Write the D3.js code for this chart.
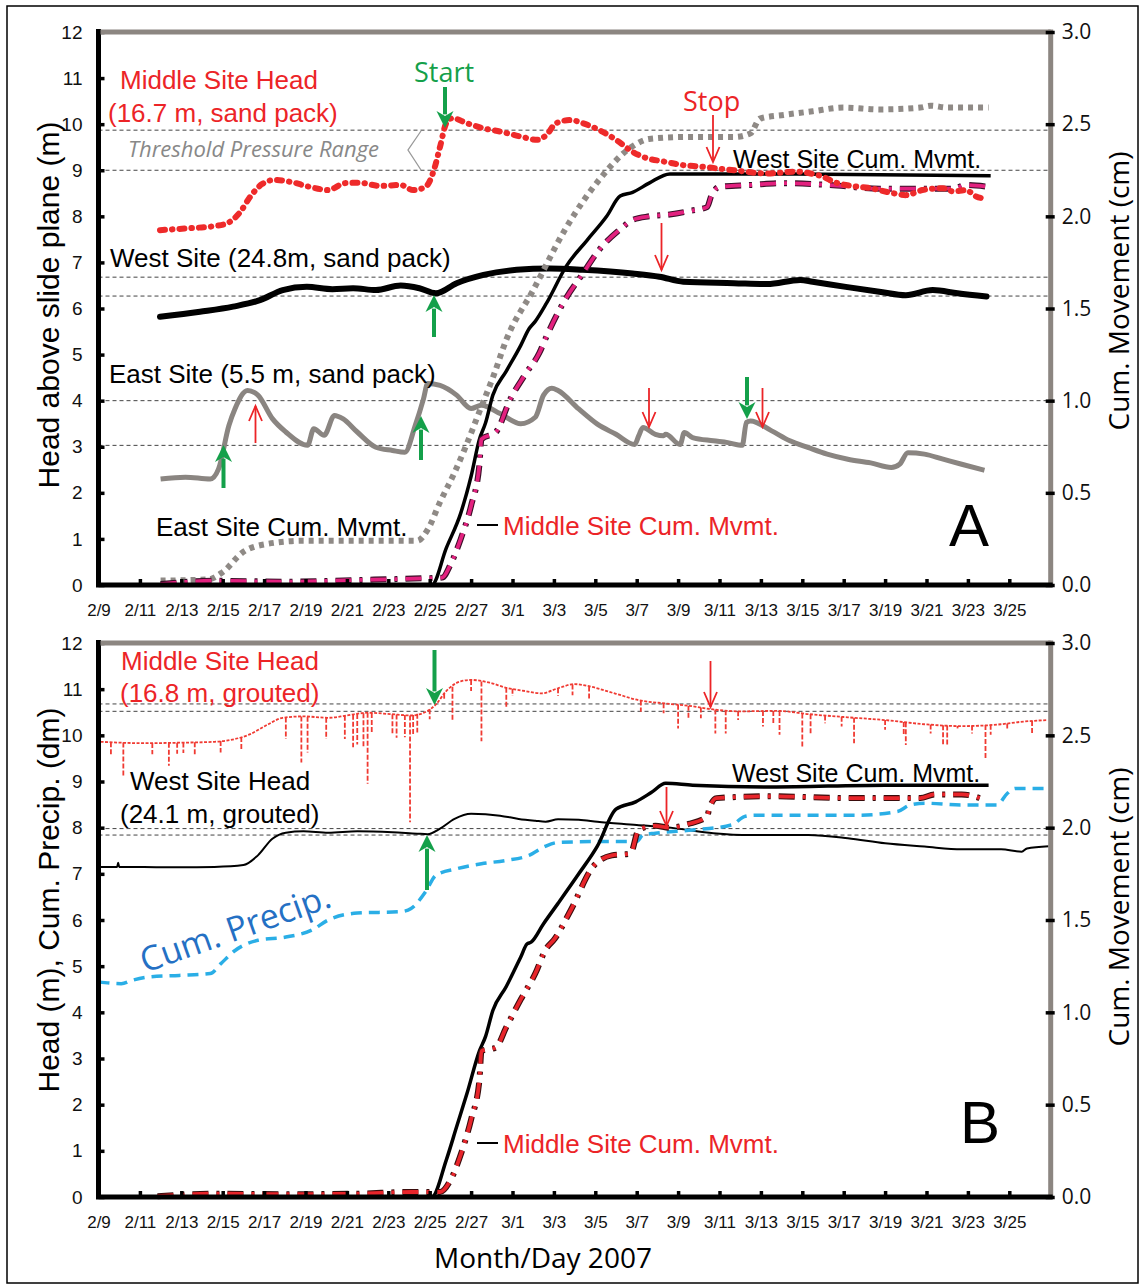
<!DOCTYPE html>
<html><head><meta charset="utf-8">
<script src="https://cdn.jsdelivr.net/npm/d3@7"></script>
<style>body{margin:0;background:#fff}svg{display:block}</style>
</head><body><svg id="c" width="1144" height="1286"></svg>
<script>
// ---------- DATA (x = days since 2/9/2007) ----------
const tickDays = [0,2,4,6,8,10,12,14,16,18,20,22,24,26,28,30,32,34,36,38,40,42,44];
const tickLabels = ["2/9","2/11","2/13","2/15","2/17","2/19","2/21","2/23","2/25","2/27","3/1","3/3","3/5","3/7","3/9","3/11","3/13","3/15","3/17","3/19","3/21","3/23","3/25"];
const headTicks = [0,1,2,3,4,5,6,7,8,9,10,11,12];
const mvmtTicks = [0,0.5,1,1.5,2,2.5,3];

// Panel A
const middleHeadA = [[2.97,7.70],[4.3,7.74],[5.63,7.79],[6.26,7.86],[6.84,8.09],[7.32,8.42],[7.9,8.70],[8.5,8.79],[9.25,8.75],[10.2,8.64],[11.1,8.57],[11.9,8.72],[12.6,8.73],[13.6,8.66],[14.6,8.68],[15.2,8.57],[15.8,8.64],[16.2,9.0],[16.5,9.51],[16.8,10.02],[17.1,10.13],[17.8,10.02],[18.6,9.91],[19.4,9.84],[20.4,9.73],[21.2,9.66],[21.65,9.77],[22.1,10.02],[22.8,10.09],[23.4,10.02],[24.2,9.87],[25.0,9.66],[25.8,9.40],[26.5,9.26],[27.3,9.19],[28.25,9.11],[29.1,9.08],[29.9,9.04],[30.7,9.0],[32.3,8.93],[33.7,8.97],[34.4,8.93],[35.0,8.86],[35.5,8.75],[36.1,8.68],[37.3,8.61],[38.4,8.50],[39.0,8.46],[39.8,8.57],[40.8,8.61],[41.3,8.54],[41.9,8.57],[42.4,8.43],[42.9,8.38]];
const westHeadA = [[2.97,5.82],[4.9,5.93],[6.5,6.04],[7.8,6.18],[8.9,6.40],[10.06,6.47],[11.3,6.42],[12.3,6.44],[13.4,6.40],[14.6,6.50],[15.5,6.44],[16.3,6.33],[17.3,6.55],[18.6,6.73],[20.2,6.84],[21.8,6.87],[23.4,6.84],[25.8,6.76],[27.1,6.69],[28.25,6.58],[30.7,6.55],[32.3,6.53],[33.9,6.62],[34.5,6.58],[36.1,6.47],[37.8,6.36],[39.0,6.29],[40.3,6.40],[41.5,6.33],[42.9,6.26]];
const eastHeadA = [[3.0,2.30],[4.2,2.34],[5.4,2.30],[5.8,2.52],[6.3,3.46],[6.6,3.83],[7.2,4.22],[7.7,4.12],[8.4,3.61],[9.05,3.32],[10.1,3.03],[10.4,3.39],[10.9,3.25],[11.4,3.68],[11.8,3.61],[12.5,3.32],[13.4,2.99],[14.2,2.92],[14.8,2.88],[15.3,3.46],[15.7,4.04],[15.9,4.37],[16.5,4.33],[17.3,4.12],[18.0,3.83],[18.5,3.90],[19.4,3.72],[20.4,3.50],[21.1,3.64],[21.5,4.12],[21.9,4.27],[22.2,4.22],[23.2,3.82],[24.1,3.49],[25.0,3.27],[25.9,3.05],[26.1,3.24],[26.3,3.42],[26.9,3.27],[27.3,3.24],[27.4,3.27],[28.1,3.05],[28.3,3.31],[28.7,3.20],[29.7,3.13],[30.4,3.09],[31.1,3.03],[31.3,3.53],[31.5,3.56],[32.5,3.35],[33.4,3.13],[34.3,2.98],[35.2,2.84],[36.2,2.73],[37.3,2.65],[38.3,2.55],[38.7,2.62],[39.1,2.87],[39.9,2.84],[40.8,2.73],[41.7,2.62],[42.8,2.49]];
const eastMvmtA = [[3.0,0.024],[5.3,0.03],[6.0,0.07],[7.0,0.18],[8.0,0.22],[9.9,0.24],[12.5,0.24],[15.4,0.24],[15.9,0.30],[16.5,0.45],[17.2,0.61],[17.7,0.74],[18.4,0.94],[19.1,1.14],[19.7,1.33],[21.0,1.60],[22.6,1.94],[24.2,2.20],[25.8,2.38],[26.6,2.42],[28.25,2.43],[30.7,2.43],[31.5,2.45],[31.95,2.53],[33.1,2.55],[34.5,2.57],[36.0,2.59],[37.75,2.58],[39.7,2.59],[40.2,2.60],[41.0,2.59],[43.0,2.59]];
const westMvmtA = [[3.0,0],[16.1,0],[16.8,0.20],[17.5,0.39],[18.0,0.59],[18.4,0.79],[18.7,0.88],[19.05,1.03],[19.7,1.16],[20.4,1.30],[20.8,1.39],[21.1,1.43],[21.65,1.53],[22.6,1.73],[23.6,1.87],[24.55,2.00],[25.2,2.11],[25.8,2.13],[26.6,2.18],[27.6,2.23],[29.1,2.23],[33.7,2.23],[43.1,2.22]];
const middleMvmtA = [[3.0,0.005],[5.6,0.023],[9.05,0.018],[12.5,0.027],[15.6,0.036],[16.6,0.04],[17.0,0.11],[17.5,0.25],[18.0,0.43],[18.4,0.65],[18.5,0.79],[19.2,0.83],[19.9,1.01],[20.6,1.14],[21.3,1.26],[21.65,1.35],[22.45,1.53],[23.4,1.69],[24.2,1.82],[25.2,1.93],[25.8,1.98],[26.6,2.0],[27.6,2.01],[28.6,2.03],[29.4,2.05],[29.6,2.11],[30.0,2.16],[31.5,2.17],[33.1,2.18],[35.3,2.17],[37.75,2.15],[39.8,2.15],[41.3,2.15],[41.9,2.17],[43.0,2.16]];
const refLinesA = [9.87,9.0,6.68,6.27,4.0,3.03];

// Panel B
const middleHeadB = [[0.1,9.86],[2.2,9.83],[3.9,9.84],[5.6,9.86],[6.6,9.92],[7.3,10.02],[8.2,10.24],[8.9,10.38],[9.9,10.41],[11.1,10.38],[12.0,10.43],[13.0,10.49],[14.1,10.46],[15.1,10.43],[15.9,10.53],[16.3,10.67],[16.8,10.96],[17.5,11.17],[18.0,11.20],[18.9,11.14],[19.7,11.03],[20.6,10.96],[21.4,10.91],[22.2,11.02],[23.0,11.11],[23.5,11.08],[25.0,10.90],[26.1,10.76],[27.4,10.69],[28.7,10.63],[29.7,10.56],[31.0,10.52],[32.8,10.53],[34.3,10.46],[36.2,10.39],[38.0,10.33],[39.9,10.24],[41.7,10.20],[43.6,10.24],[44.5,10.29],[45.8,10.33]];
const spikeBottomsB = [[0.6,9.59],[1.2,9.13],[2.6,9.59],[3.4,9.34],[3.8,9.6],[4.1,9.62],[4.65,9.59],[5.9,9.63],[6.9,9.67],[9.05,9.92],[9.8,9.41],[10.1,9.63],[11.0,9.92],[11.9,9.92],[12.3,9.74],[12.5,9.8],[12.8,9.74],[13.0,8.95],[13.2,10.03],[14.2,10.0],[14.4,9.95],[14.8,9.96],[15.05,8.12],[15.2,10.0],[15.4,10.06],[16.0,10.35],[16.7,10.78],[17.1,10.33],[18.0,10.96],[18.5,9.87],[19.7,10.6],[20.0,10.85],[22.2,10.85],[22.9,10.87],[23.7,10.8],[26.2,10.51],[27.3,10.48],[28.0,10.15],[28.5,10.37],[29.1,10.37],[29.8,10.04],[30.3,10.04],[30.9,10.33],[32.1,10.19],[32.6,10.26],[32.9,10.01],[34.0,9.75],[34.4,10.01],[35.1,10.26],[35.9,10.19],[36.5,9.83],[38.0,10.12],[38.9,10.01],[39.0,9.79],[40.2,10.04],[40.8,9.79],[41.0,9.79],[41.5,10.15],[42.2,10.04],[42.85,9.50],[43.1,10.01],[43.9,10.12],[45.1,10.04]];
const westHeadB = [[0,7.15],[0.9,7.15],[0.95,7.24],[1.0,7.15],[2.2,7.15],[3.9,7.14],[5.6,7.15],[7.0,7.19],[7.7,7.40],[8.4,7.76],[9.05,7.89],[9.9,7.92],[11.1,7.89],[12.5,7.92],[14.2,7.90],[15.4,7.87],[15.9,7.86],[16.5,7.98],[17.2,8.19],[18.0,8.30],[19.4,8.26],[20.3,8.19],[21.1,8.15],[21.6,8.13],[22.2,8.18],[23.2,8.17],[24.1,8.13],[26.0,8.06],[27.8,7.99],[29.7,7.88],[31.5,7.84],[34.3,7.84],[36.2,7.77],[38.0,7.66],[39.9,7.59],[41.7,7.53],[43.6,7.53],[44.6,7.48],[44.85,7.55],[45.9,7.60]];
const cumPrecipB = [[0,4.66],[1.1,4.62],[1.6,4.69],[2.5,4.77],[3.9,4.80],[5.4,4.84],[5.9,5.05],[6.6,5.34],[7.7,5.56],[9.05,5.63],[10.3,5.78],[11.1,6.0],[12.5,6.15],[14.6,6.18],[15.1,6.25],[15.8,6.61],[16.3,6.97],[17.3,7.11],[18.5,7.22],[19.7,7.29],[20.8,7.40],[21.6,7.60],[22.2,7.68],[24.1,7.70],[26.0,7.70],[26.3,7.84],[26.9,7.88],[28.7,7.95],[30.6,8.06],[31.2,8.24],[31.7,8.27],[36.7,8.27],[38.6,8.35],[39.2,8.49],[39.9,8.53],[41.7,8.49],[43.4,8.49],[43.9,8.74],[44.3,8.85],[45.9,8.85]];
const westMvmtB = [[3.0,0],[16.1,0],[16.8,0.20],[17.3,0.38],[17.8,0.56],[18.4,0.79],[18.7,0.87],[19.05,1.01],[19.7,1.14],[20.4,1.30],[20.7,1.37],[20.9,1.38],[21.5,1.48],[22.2,1.59],[23.2,1.75],[24.1,1.90],[25.0,2.10],[25.95,2.14],[26.7,2.19],[27.4,2.24],[28.7,2.23],[32.5,2.22],[38.0,2.23],[43.0,2.23]];
const middleMvmtB = [[2.85,0.004],[5.6,0.018],[9.05,0.015],[12.5,0.018],[15.1,0.027],[16.5,0.027],[17.0,0.09],[17.5,0.23],[18.0,0.42],[18.4,0.63],[18.5,0.79],[19.2,0.81],[19.7,0.92],[20.4,1.07],[21.1,1.21],[21.6,1.34],[22.05,1.40],[22.8,1.55],[23.9,1.79],[24.8,1.85],[25.7,1.86],[26.1,1.99],[26.9,2.01],[27.6,2.0],[28.5,2.02],[29.4,2.06],[29.5,2.10],[29.85,2.16],[32.5,2.17],[36.2,2.16],[39.7,2.16],[40.4,2.18],[41.7,2.18],[42.85,2.15]];
const refLinesB = [10.68,10.52,7.98,7.84];

// ---------- DRAW ----------
const svg = d3.select("#c");
const ARIAL = "'Liberation Sans', Arial, sans-serif";
const OPEN = "'Open Sans', sans-serif";
const RED = "#ec2427", GREEN = "#14a04a", GRAYAX = "#8c8681";

svg.append("rect").attr("x",7).attr("y",6).attr("width",1131).attr("height",1277)
  .attr("fill","none").attr("stroke","#000").attr("stroke-width",1.5);

const x = d3.scaleLinear().domain([0,46]).range([98.5,1050.7]);

function makePanel(top, bottom) {
  const yH = d3.scaleLinear().domain([0,12]).range([bottom, top]);
  const yM = d3.scaleLinear().domain([0,3]).range([bottom, top]);
  return {yH, yM, top, bottom};
}
const A = makePanel(32, 585);
const B = makePanel(643, 1197);

function refLines(P, vals) {
  svg.append("g").selectAll("line").data(vals).join("line")
    .attr("x1", x.range()[0]).attr("x2", x.range()[1])
    .attr("y1", d => P.yH(d)).attr("y2", d => P.yH(d))
    .attr("stroke","#444").attr("stroke-width",1).attr("stroke-dasharray","4 3");
}

function line(P, data, scale, style) {
  const gen = d3.line().x(d => x(d[0])).y(d => P[scale](d[1])).curve(d3.curveMonotoneX);
  const p = svg.append("path").attr("d", gen(data)).attr("fill","none");
  Object.entries(style).forEach(([k,v]) => p.attr(k,v));
  return p;
}

function axes(P) {
  const gl = svg.append("g").attr("transform",`translate(${x.range()[0]},0)`)
    .call(d3.axisLeft(P.yH).tickValues(headTicks).tickFormat(d3.format("d")).tickSizeInner(-6).tickSizeOuter(0).tickPadding(16));
  gl.select(".domain").attr("stroke","#000").attr("stroke-width",5).attr("d",`M0,${P.bottom+2}V${P.top-3}`);
  gl.selectAll(".tick line").attr("stroke","#000").attr("stroke-width",3.5);
  gl.selectAll(".tick text").attr("font-family",ARIAL).attr("font-size",19).attr("fill","#111");
  svg.append("line").attr("x1",x.range()[0]+2).attr("x2",x.range()[1]).attr("y1",P.top).attr("y2",P.top)
    .attr("stroke",GRAYAX).attr("stroke-width",5);
  const gr = svg.append("g").attr("transform",`translate(${x.range()[1]},0)`)
    .call(d3.axisRight(P.yM).tickValues(mvmtTicks).tickFormat(d3.format(".1f")).tickSizeInner(4).tickSizeOuter(0).tickPadding(7));
  gr.select(".domain").attr("stroke",GRAYAX).attr("stroke-width",5).attr("d",`M0,${P.bottom}V${P.top-2.5}`);
  gr.selectAll(".tick line").attr("x1",-5).attr("stroke","#000").attr("stroke-width",3.5);
  gr.selectAll(".tick text").attr("font-family",OPEN).attr("font-size",21).attr("fill","#111");
  const gb = svg.append("g").attr("transform",`translate(0,${P.bottom})`)
    .call(d3.axisBottom(x).tickValues(tickDays).tickFormat((d,i) => tickLabels[i]).tickSizeInner(-6).tickSizeOuter(0).tickPadding(19));
  gb.select(".domain").attr("stroke","#000").attr("stroke-width",5).attr("d",`M${x.range()[0]-2.5},0H${x.range()[1]+2}`);
  gb.selectAll(".tick line").attr("stroke","#000").attr("stroke-width",3.5).filter(d => d === 0).remove();
  gb.selectAll(".tick text").attr("font-family",ARIAL).attr("font-size",17).attr("fill","#111");
}

function text(t, xx, yy, o = {}) {
  const el = svg.append("text").attr("x",xx).attr("y",yy).text(t)
    .attr("font-family", o.font || ARIAL).attr("font-size", o.size || 26)
    .attr("fill", o.fill || "#000");
  if (o.anchor) el.attr("text-anchor", o.anchor);
  if (o.style) el.attr("font-style", o.style);
  if (o.transform) el.attr("transform", o.transform);
  return el;
}

function greenArrow(xx, yFrom, yTip) {
  const dir = yTip > yFrom ? 1 : -1;
  const hl = 17, hw = 8.5;
  svg.append("line").attr("x1",xx).attr("x2",xx).attr("y1",yFrom).attr("y2",yTip - dir*hl*0.8)
    .attr("stroke",GREEN).attr("stroke-width",4);
  svg.append("path").attr("d",`M${xx},${yTip} L${xx-hw},${yTip-dir*hl} L${xx},${yTip-dir*hl*0.7} L${xx+hw},${yTip-dir*hl} Z`)
    .attr("fill",GREEN);
}
function redArrow(xx, yFrom, yTip) {
  const dir = yTip > yFrom ? 1 : -1;
  svg.append("line").attr("x1",xx).attr("x2",xx).attr("y1",yFrom).attr("y2",yTip)
    .attr("stroke",RED).attr("stroke-width",1.8);
  svg.append("path").attr("d",`M${xx-6.5},${yTip-dir*15} L${xx},${yTip} L${xx+6.5},${yTip-dir*15}`)
    .attr("fill","none").attr("stroke",RED).attr("stroke-width",1.8);
}

// ===== PANEL A =====
refLines(A, refLinesA);
line(A, eastHeadA, "yH", {stroke:"#8a8581","stroke-width":5,"stroke-linejoin":"round"});
line(A, westHeadA, "yH", {stroke:"#000","stroke-width":6,"stroke-linejoin":"round","stroke-linecap":"round"});
line(A, eastMvmtA, "yM", {stroke:"#8f8a86","stroke-width":6,"stroke-dasharray":"5 5"});
line(A, westMvmtA, "yM", {stroke:"#000","stroke-width":3.5});
line(A, middleMvmtA, "yM", {stroke:"#3a1028","stroke-width":6,"stroke-dasharray":"16 8 3 8"});
line(A, middleMvmtA, "yM", {stroke:"#e3217f","stroke-width":3.8,"stroke-dasharray":"16 8 3 8"});
line(A, middleHeadA, "yH", {stroke:"#ee2a2a","stroke-width":6,"stroke-linecap":"round","stroke-dasharray":"5 7 0.5 7"});
axes(A);

text("Middle Site Head", 120, 89, {fill:RED});
text("(16.7 m, sand pack)", 108, 122, {fill:RED});
text("Threshold Pressure Range", 128, 157, {font:OPEN, size:22, fill:"#888", style:"italic"});
svg.append("path").attr("d","M421,131 L408,150 L421,170").attr("fill","none").attr("stroke","#999").attr("stroke-width",1.3);
text("Start", 414, 82, {font:OPEN, size:27, fill:GREEN});
greenArrow(445, 87, 128);
text("Stop", 683, 111, {font:OPEN, size:27, fill:RED});
redArrow(713, 115, 162);
redArrow(661.5, 223, 270);
text("West Site Cum. Mvmt.", 733, 168, {size:25});
text("West Site (24.8m, sand pack)", 110, 267);
greenArrow(434, 337, 295);
text("East Site (5.5 m, sand pack)", 109, 383);
greenArrow(223.5, 488, 445);
redArrow(255.5, 443, 406);
greenArrow(421, 460, 416);
redArrow(649, 388, 427);
greenArrow(747, 377, 419);
redArrow(762.5, 388, 427);
text("East Site Cum. Mvmt.", 156, 536);
svg.append("line").attr("x1",477).attr("x2",498).attr("y1",525).attr("y2",525).attr("stroke","#000").attr("stroke-width",2);
text("Middle Site Cum. Mvmt.", 503, 535, {fill:RED});
text("A", 949, 546, {size:60});
text("Head above slide plane (m)", 0, 0, {size:30, anchor:"middle", transform:"translate(59,305) rotate(-90)"});
text("Cum. Movement (cm)", 0, 0, {font:OPEN, size:28, anchor:"middle", transform:"translate(1129,291) rotate(-90)"});

// ===== PANEL B =====
refLines(B, refLinesB);
const interp = (data, d) => {
  const i = d3.bisector(p => p[0]).left(data, d);
  const a = data[Math.max(0,i-1)], b = data[Math.min(data.length-1,i)];
  if (a[0] === b[0]) return a[1];
  return a[1] + (b[1]-a[1])*(d-a[0])/(b[0]-a[0]);
};
svg.append("g").selectAll("line").data(spikeBottomsB).join("line")
  .attr("x1", d => x(d[0])).attr("x2", d => x(d[0]))
  .attr("y1", d => B.yH(interp(middleHeadB, d[0]))).attr("y2", d => B.yH(d[1]))
  .attr("stroke","#f03a32").attr("stroke-width",1.8).attr("stroke-dasharray","5 2");
line(B, middleHeadB, "yH", {stroke:"#f03a32","stroke-width":1.8,"stroke-dasharray":"3 1.5"});
line(B, westHeadB, "yH", {stroke:"#000","stroke-width":2});
line(B, cumPrecipB, "yH", {stroke:"#2aaee6","stroke-width":3.5,"stroke-dasharray":"11 7"});
line(B, westMvmtB, "yM", {stroke:"#000","stroke-width":3.5});
line(B, middleMvmtB, "yM", {stroke:"#3a0c0c","stroke-width":6,"stroke-dasharray":"16 8 3 8"});
line(B, middleMvmtB, "yM", {stroke:"#e8252b","stroke-width":3.8,"stroke-dasharray":"16 8 3 8"});
axes(B);

text("Middle Site Head", 121, 670, {fill:RED});
text("(16.8 m, grouted)", 120, 702, {fill:RED});
text("West Site Head", 130, 790);
text("(24.1 m, grouted)", 120, 823);
text("Cum. Precip.", 0, 0, {font:OPEN, size:34, fill:"#2470c4", transform:"translate(145,973) rotate(-19.5)"});
greenArrow(434.5, 650, 705);
greenArrow(427, 890, 835);
redArrow(710.5, 661, 707);
redArrow(666.5, 787, 826);
text("West Site Cum. Mvmt.", 732, 782, {size:25});
svg.append("line").attr("x1",477).attr("x2",498).attr("y1",1143).attr("y2",1143).attr("stroke","#000").attr("stroke-width",2);
text("Middle Site Cum. Mvmt.", 503, 1153, {fill:RED});
text("B", 960, 1143, {size:60});
text("Head (m), Cum. Precip. (dm)", 0, 0, {size:30, anchor:"middle", transform:"translate(59,900) rotate(-90)"});
text("Cum. Movement (cm)", 0, 0, {font:OPEN, size:28, anchor:"middle", transform:"translate(1129,907) rotate(-90)"});
text("Month/Day 2007", 543, 1268, {font:OPEN, size:28, anchor:"middle"});
</script>
</body></html>
